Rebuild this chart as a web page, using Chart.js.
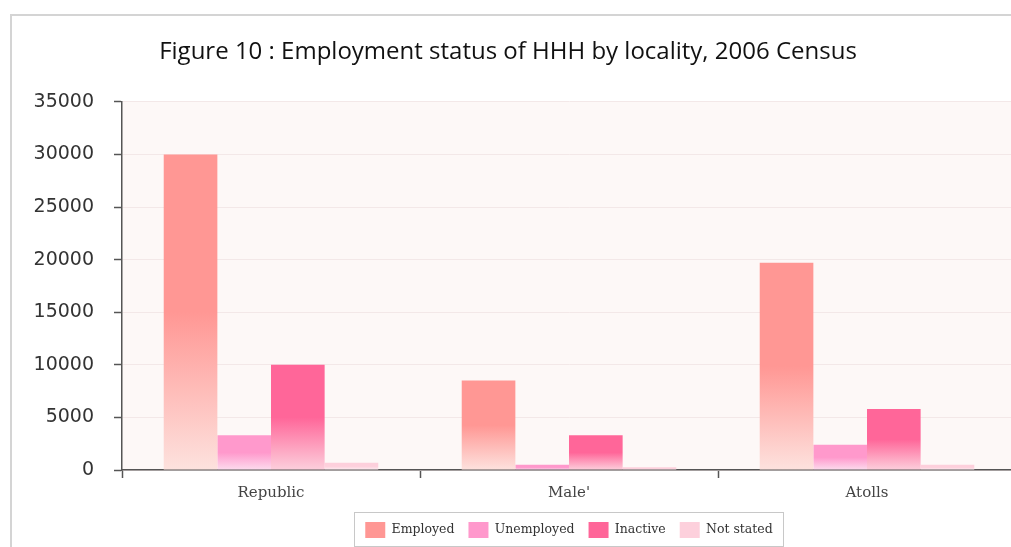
<!DOCTYPE html>
<html>
<head>
<meta charset="utf-8">
<script src="https://cdn.jsdelivr.net/npm/chart.js@4/dist/chart.umd.min.js"></script>
<style>
  html, body { margin: 0; padding: 0; background: #fff; overflow: hidden; width: 1011px; height: 547px; }
  #frame { position: absolute; left: 10px; top: 14px; width: 1100px; height: 600px;
           border-top: 2px solid #d4d4d4; border-left: 2px solid #d4d4d4; }
  #wrap { position: absolute; left: 0; top: 0; width: 1016px; height: 548px; }
</style>
</head>
<body>
<div id="frame"></div>
<div id="wrap"><canvas id="emp-chart"></canvas></div>
<script>
// values
let localities = ['Republic', "Male'", 'Atolls'];
let employed = [30000, 8500, 19700];
let unemployed = [3300, 500, 2400];
let inactive = [10000, 3300, 5800];
let notStated = [700, 250, 500];
let yTicks = [0, 5000, 10000, 15000, 20000, 25000, 30000, 35000];

let topColors = ['#ff9794', '#ff99cc', '#ff6699', '#fdd0dc'];
let baseColors = ['#fde2de', '#fcdcee', '#fccfdc', '#fdeef2'];

// vertical fade on every bar, solid on the upper half
function barFill(top, bottom){
    return function(c){
        let chart = c.chart;
        if(!chart.chartArea || c.type !== 'data') return top;
        let y = chart.scales.y;
        let y0 = y.getPixelForValue(c.raw), y1 = y.getPixelForValue(0);
        if(!(y1 > y0)) return top;
        let g = chart.ctx.createLinearGradient(0, y0, 0, y1);
        g.addColorStop(0, top);
        g.addColorStop(0.5, top);
        g.addColorStop(1, bottom);
        return g;
    }
}

const plotBg = {
    id: 'plotBg',
    beforeDraw(chart){
        let {ctx, chartArea} = chart;
        ctx.save();
        ctx.fillStyle = '#fdf8f7';
        ctx.fillRect(chartArea.left, chartArea.top, chartArea.right - chartArea.left, chartArea.bottom - chartArea.top);
        ctx.restore();
    }
};

const legendBox = {
    id: 'legendBox',
    afterDraw(chart){
        let boxes = chart.legend.legendHitBoxes;
        if(!boxes || !boxes.length) return;
        let l = Math.min(...boxes.map(b => b.left)) - 11;
        let r = Math.max(...boxes.map(b => b.left + b.width)) + 11;
        let t = Math.min(...boxes.map(b => b.top)) - 10;
        let btm = Math.max(...boxes.map(b => b.top + b.height)) + 8;
        let ctx = chart.ctx;
        ctx.save();
        ctx.strokeStyle = '#c8c8c8';
        ctx.lineWidth = 1;
        ctx.strokeRect(Math.round(l) + 0.5, Math.round(t) + 0.5, Math.round(r - l), Math.round(btm - t));
        ctx.restore();
    }
};

const empData = {
    labels: localities,
    datasets: [
        { label: 'Employed', data: employed, backgroundColor: barFill(topColors[0], baseColors[0]) },
        { label: 'Unemployed', data: unemployed, backgroundColor: barFill(topColors[1], baseColors[1]) },
        { label: 'Inactive', data: inactive, backgroundColor: barFill(topColors[2], baseColors[2]) },
        { label: 'Not stated', data: notStated, backgroundColor: barFill(topColors[3], baseColors[3]) },
    ]
};

const empConfig = {
    type: 'bar',
    data: empData,
    options: {
        responsive: true,
        maintainAspectRatio: false,
        animation: false,
        layout: { padding: 0 },
        datasets: { bar: { categoryPercentage: 0.72, barPercentage: 1.0, borderWidth: 0 } },
        plugins: {
            title: {
                display: true,
                text: 'Figure 10 : Employment status of HHH by locality, 2006 Census',
                color: '#111',
                font: { family: 'Open Sans', size: 24, weight: 'normal', lineHeight: 1.2 },
                padding: { top: 38, bottom: 35 }
            },
            legend: {
                position: 'bottom',
                fullSize: false,
                labels: {
                    boxWidth: 20,
                    boxHeight: 16,
                    padding: 14,
                    color: '#333',
                    font: { family: 'DejaVu Serif', size: 12.5 },
                    generateLabels(chart){
                        let items = Chart.defaults.plugins.legend.labels.generateLabels(chart);
                        items.forEach((it, i) => { it.fillStyle = topColors[i]; it.strokeStyle = topColors[i]; it.lineWidth = 0; });
                        return items;
                    }
                }
            },
            tooltip: { enabled: false }
        },
        scales: {
            x: {
                grid: { drawOnChartArea: false, tickLength: 8, tickColor: '#555', tickWidth: 1.5 },
                border: { color: '#555', width: 1.5 },
                ticks: { color: '#444', padding: 6, font: { family: 'DejaVu Serif', size: 15 } },
                afterFit(s){ s.height = 38; }
            },
            y: {
                min: 0,
                max: 35000,
                afterBuildTicks(s){ s.ticks = yTicks.map(v => ({ value: v })); },
                grid: { color: '#f3e8e8', tickLength: 8, tickColor: '#555', tickWidth: 1.5 },
                border: { color: '#555', width: 1.5 },
                ticks: { color: '#333', padding: 20, font: { family: 'DejaVu Sans', size: 19 }, callback: v => String(v) },
                afterFit(s){ s.width = 122; }
            }
        }
    },
    plugins: [plotBg, legendBox]
};

const empChart = new Chart(document.getElementById('emp-chart'), empConfig);
</script>
</body>
</html>
